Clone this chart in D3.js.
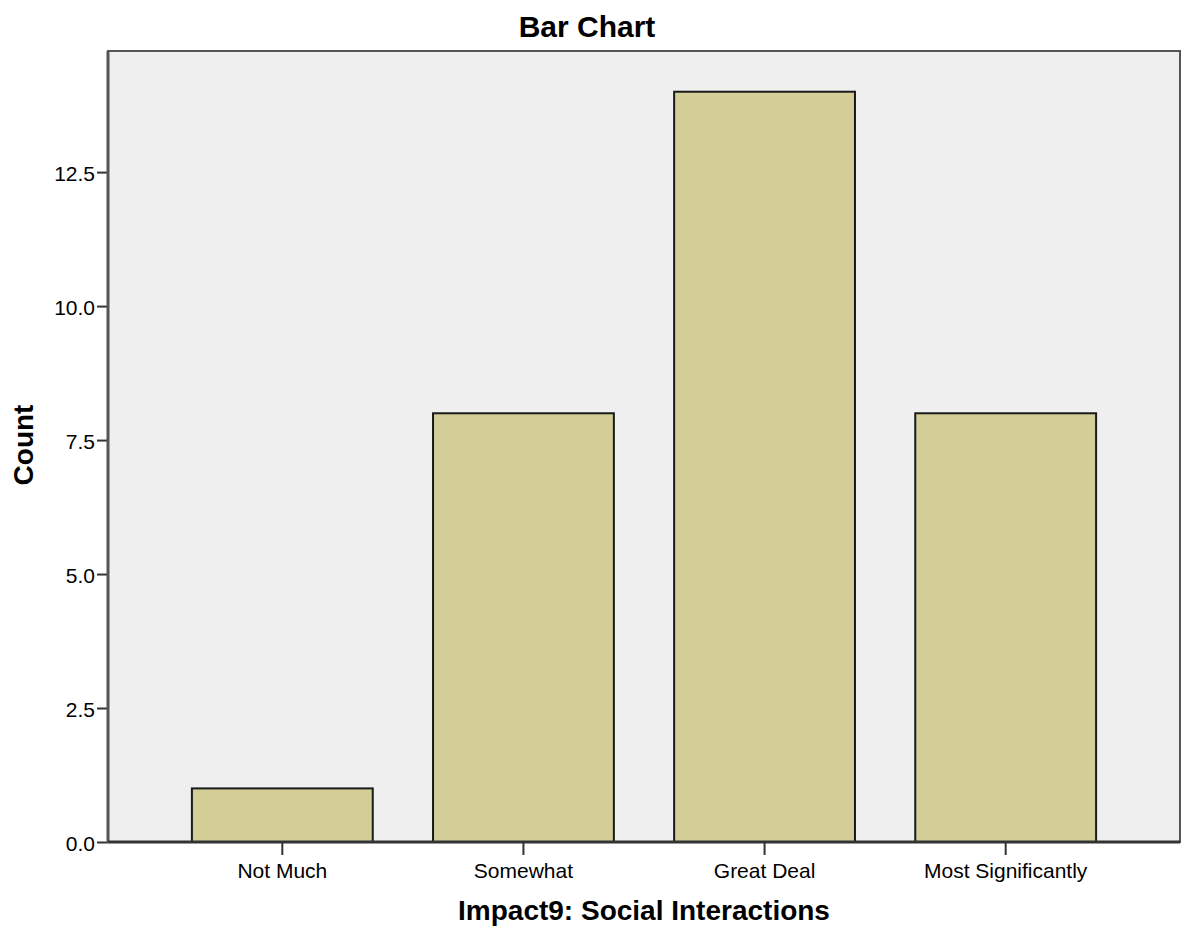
<!DOCTYPE html>
<html><head><meta charset="utf-8">
<script src="https://cdn.jsdelivr.net/npm/d3@7"></script>
<style>
html,body{margin:0;padding:0;background:#fff;}
text{font-family:Arial,"Liberation Sans",sans-serif;fill:#000;}
</style></head>
<body>
<svg id="chart" width="1182" height="930"></svg>
<script>
const categories = ["Not Much", "Somewhat", "Great Deal", "Most Significantly"];
const counts = [1, 8, 14, 8];
const yTicks = [0, 2.5, 5, 7.5, 10, 12.5];
const titleText = "Bar Chart";
const xLabel = "Impact9: Social Interactions";
const yLabel = "Count";

const svg = d3.select("#chart");
const L = 108, R = 1180, T = 51, B = 842;

const x = d3.scaleBand().domain(categories).range([L, R]).paddingInner(0.25).paddingOuter(0.348);
const y = d3.scaleLinear().domain([0, 14.76]).range([B, T]);

// plot background
svg.append("rect").attr("x", L).attr("y", T).attr("width", R - L).attr("height", B - T)
  .attr("fill", "#efefef").attr("stroke", "#555").attr("stroke-width", 2);

// bars
svg.selectAll("rect.bar").data(counts).enter().append("rect")
  .attr("class", "bar")
  .attr("x", (d, i) => x(categories[i]))
  .attr("y", d => y(d))
  .attr("width", x.bandwidth())
  .attr("height", d => B - y(d))
  .attr("fill", "#d3ce97")
  .attr("stroke", "#1a1a1a").attr("stroke-width", 2);

// y axis
const yAxis = svg.append("g").attr("transform", `translate(${L},0)`)
  .call(d3.axisLeft(y).tickValues(yTicks).tickFormat(d3.format(".1f")).tickSize(11).tickPadding(2));
yAxis.select(".domain").remove();
yAxis.selectAll(".tick line").attr("stroke", "#333").attr("stroke-width", 2);
yAxis.selectAll(".tick text").attr("font-size", 21).attr("fill", "#111").attr("font-family", "Arial, 'Liberation Sans', sans-serif").attr("dy", "0.4em");
svg.append("line").attr("x1", L).attr("x2", L).attr("y1", T).attr("y2", B + 1)
  .attr("stroke", "#555").attr("stroke-width", 3);

// x axis
const xAxis = svg.append("g").attr("transform", `translate(0,${B})`)
  .call(d3.axisBottom(x).tickSize(13).tickPadding(8));
xAxis.select(".domain").remove();
xAxis.selectAll(".tick line").attr("stroke", "#333").attr("stroke-width", 2);
xAxis.selectAll(".tick text").attr("font-size", 21).attr("fill", "#111").attr("font-family", "Arial, 'Liberation Sans', sans-serif");
svg.append("line").attr("x1", L).attr("x2", R).attr("y1", B).attr("y2", B)
  .attr("stroke", "#333").attr("stroke-width", 3);

// title
svg.append("text").attr("x", 587).attr("y", 37).attr("text-anchor", "middle")
  .attr("font-size", 30).attr("font-weight", "bold").text(titleText);
// x label
svg.append("text").attr("x", (L + R) / 2).attr("y", 920).attr("text-anchor", "middle")
  .attr("font-size", 28).attr("font-weight", "bold").text(xLabel);
// y label
svg.append("text").attr("transform", `translate(33,445) rotate(-90)`).attr("text-anchor", "middle")
  .attr("font-size", 28).attr("font-weight", "bold").text(yLabel);
</script>
</body></html>
